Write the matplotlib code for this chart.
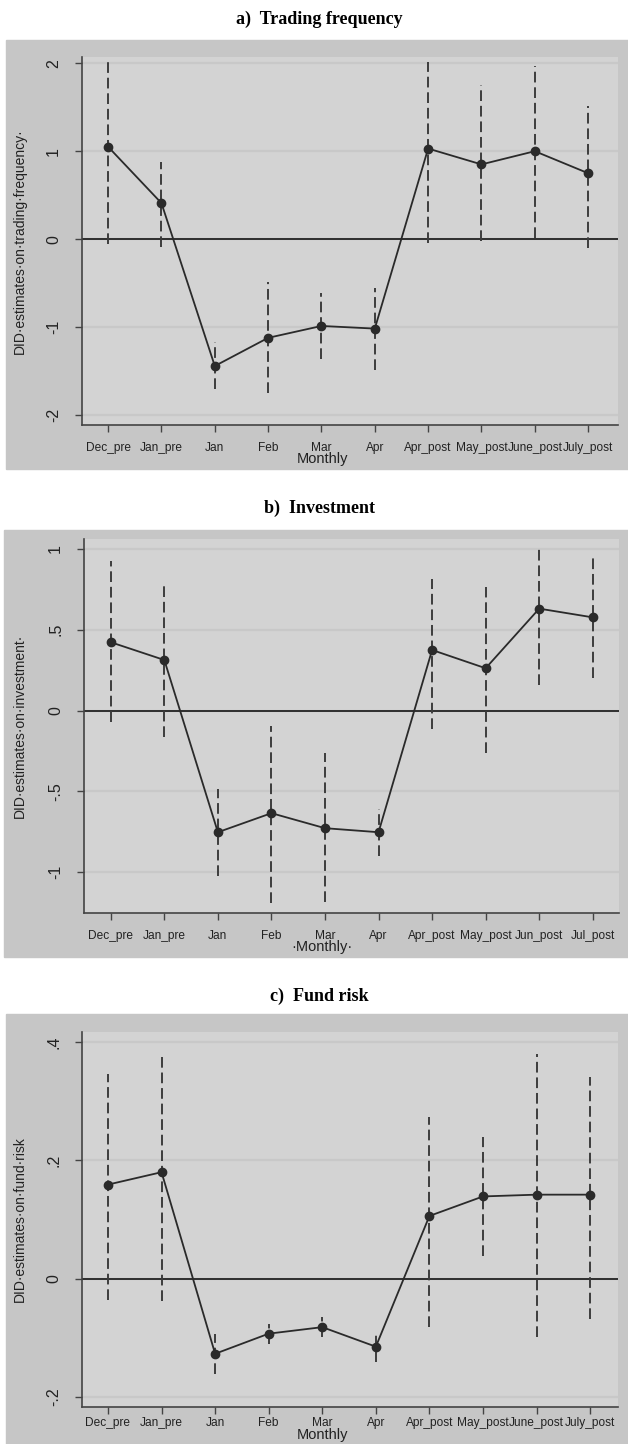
import numpy as np
import matplotlib.pyplot as plt
from matplotlib.patches import Rectangle

plt.rcParams['font.family'] = ['Liberation Sans', 'DejaVu Sans']

# months on the x axis
months_a = ['Dec_pre', 'Jan_pre', 'Jan', 'Feb', 'Mar', 'Apr', 'Apr_post', 'May_post', 'June_post', 'July_post']
months_b = ['Dec_pre', 'Jan_pre', 'Jan', 'Feb', 'Mar', 'Apr', 'Apr_post', 'May_post', 'Jun_post', 'Jul_post']
months_c = ['Dec_pre', 'Jan_pre', 'Jan', 'Feb', 'Mar', 'Apr', 'Apr_post', 'May_post', 'June_post', 'July_post']

# a) trading frequency
trade_est = [1.05, 0.41, -1.44, -1.12, -0.985, -1.015, 1.03, 0.85, 1.0, 0.75]
trade_lo = [-0.05, -0.09, -1.70, -1.75, -1.36, -1.49, -0.04, -0.02, 0.01, -0.10]
trade_hi = [2.02, 0.88, -1.17, -0.49, -0.61, -0.55, 2.01, 1.75, 1.97, 1.51]

# b) investment
inv_est = [0.423, 0.313, -0.753, -0.635, -0.728, -0.753, 0.375, 0.262, 0.631, 0.577]
inv_lo = [-0.068, -0.161, -1.027, -1.19, -1.188, -0.903, -0.113, -0.264, 0.159, 0.20]
inv_hi = [0.926, 0.794, -0.487, -0.093, -0.264, -0.61, 0.812, 0.763, 1.025, 0.969]

# c) fund risk
risk_est = [0.159, 0.180, -0.127, -0.093, -0.082, -0.115, 0.106, 0.139, 0.142, 0.142]
risk_lo = [-0.036, -0.038, -0.161, -0.111, -0.099, -0.141, -0.082, 0.038, -0.099, -0.069]
risk_hi = [0.346, 0.374, -0.093, -0.076, -0.065, -0.089, 0.274, 0.239, 0.379, 0.341]

yticks_a = [-2, -1, 0, 1, 2]
ylabels_a = ['-2', '-1', '0', '1', '2']
yticks_b = [-1, -0.5, 0, 0.5, 1]
ylabels_b = ['-1', '-.5', '0', '.5', '1']
yticks_c = [-0.2, 0, 0.2, 0.4]
ylabels_c = ['-.2', '0', '.2', '.4']

titles = ['a)  Trading frequency', 'b)  Investment', 'c)  Fund risk']
ytitles = ['DID·estimates·on·trading·frequency·', 'DID·estimates·on·investment·', 'DID·estimates·on·fund·risk']
xtitles = ['Monthly', '·Monthly·', 'Monthly']

W, H = 628, 1444
fig = plt.figure(figsize=(W / 100, H / 100), dpi=100)

def box(x0, y0, x1, y1):
    return [x0 / W, 1 - y1 / H, (x1 - x0) / W, (y1 - y0) / H]

# pixel layout of each panel: frame, axes, ylim, xlim, title y, xtitle top, x tick pad
panels = [
    dict(frame=(6, 40, 628, 469), axes=(82, 57, 618, 425), ylim=(-2.11, 2.07), xlim=(0.51, 10.56),
         ty=19, xty=452, xpad=7, months=months_a, est=trade_est, lo=trade_lo, hi=trade_hi,
         yt=yticks_a, yl=ylabels_a),
    dict(frame=(4, 530, 628, 957), axes=(84, 539, 619, 913), ylim=(-1.253, 1.062), xlim=(0.5, 10.49),
         ty=508, xty=940, xpad=7, months=months_b, est=inv_est, lo=inv_lo, hi=inv_hi,
         yt=yticks_b, yl=ylabels_b),
    dict(frame=(6, 1014, 628, 1444), axes=(82, 1032, 618, 1407), ylim=(-0.217, 0.417), xlim=(0.515, 10.52),
         ty=996, xty=1428, xpad=2.5, months=months_c, est=risk_est, lo=risk_lo, hi=risk_hi,
         yt=yticks_c, yl=ylabels_c),
]

for i, p in enumerate(panels):
    fx0, fy0, fx1, fy1 = p['frame']
    fig.add_artist(Rectangle((fx0 / W, 1 - fy1 / H), (fx1 - fx0) / W, (fy1 - fy0) / H,
                             transform=fig.transFigure, color='#c6c6c6', zorder=0))
    fig.text(319 / W, 1 - p['ty'] / H, titles[i], family='Liberation Serif', weight='bold',
             fontsize=13, ha='center', va='center')

    ax = fig.add_axes(box(*p['axes']))
    ax.set_facecolor('#d3d3d3')
    x = np.arange(1, len(p['months']) + 1)

    for t in p['yt']:
        ax.axhline(t, color='#c8c8c8', lw=1.6, zorder=1)
    ax.axhline(0, color='#2e2e2e', lw=1.4, zorder=2)
    ax.vlines(x, p['lo'], p['hi'], colors='#3c3c3c', lw=1.4, linestyles=(0, (5.5, 2.5)), zorder=3)
    ax.plot(x, p['est'], '-o', color='#2a2a2a', lw=1.3, markersize=6, zorder=4)

    ax.set_xlim(*p['xlim'])
    ax.set_ylim(*p['ylim'])
    ax.set_xticks(x)
    ax.set_xticklabels(p['months'], fontsize=8.6, color='#222222')
    ax.set_yticks(p['yt'])
    ax.set_yticklabels(p['yl'], rotation=90, va='center', fontsize=11.5, color='#222222')
    ax.tick_params(axis='x', length=5, width=1, color='#444444', pad=p['xpad'])
    ax.tick_params(axis='y', length=5, width=1, color='#444444', pad=10)
    for s in ['top', 'right']:
        ax.spines[s].set_visible(False)
    for s in ['left', 'bottom']:
        ax.spines[s].set_color('#444444')
        ax.spines[s].set_linewidth(1.2)

    ay0, ay1 = p['axes'][1], p['axes'][3]
    fig.text(20 / W, 1 - (ay0 + ay1) / 2 / H, ytitles[i], rotation=90, fontsize=10,
             ha='center', va='center', color='#222222')
    fig.text(322 / W, 1 - p['xty'] / H, xtitles[i], fontsize=10.5, ha='center', va='top',
             color='#222222')

fig.savefig('out.png', dpi=100, facecolor='white')
